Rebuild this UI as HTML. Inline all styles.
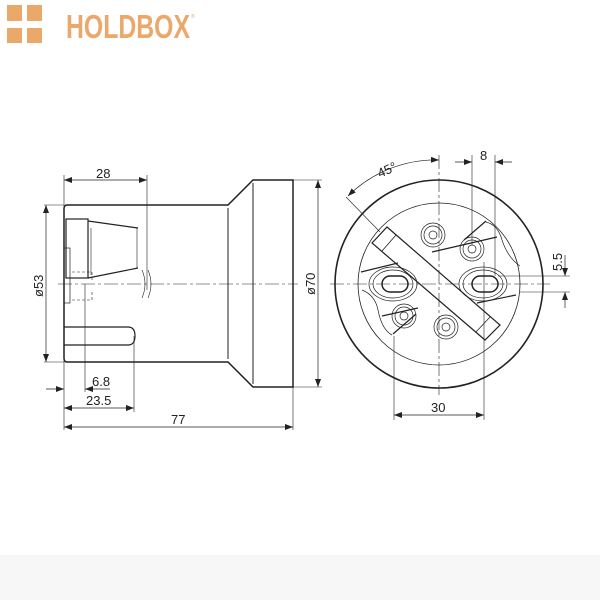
<!DOCTYPE html>
<html><head><style>
html,body{margin:0;padding:0;background:#fff;}
svg{display:block}
text{font-family:"Liberation Sans","DejaVu Sans",sans-serif;fill:#222}
</style></head><body>
<svg width="600" height="600" viewBox="0 0 600 600" xmlns="http://www.w3.org/2000/svg">
<rect x="0" y="555" width="600" height="45" fill="#f7f7f7"/>
<!-- logo -->
<g fill="#eba86b">
<rect x="7" y="5" width="15" height="16"/><rect x="27" y="5" width="15" height="16"/>
<rect x="7" y="28" width="15" height="15"/><rect x="27" y="28" width="15" height="15"/>
</g>
<text x="66" y="38" font-size="33" font-weight="bold" style="fill:#eba86b" textLength="124" lengthAdjust="spacingAndGlyphs">HOLDBOX</text>
<text x="191" y="18" font-size="5" style="fill:#eba86b">®</text>

<defs><marker id="a" markerWidth="8" markerHeight="6" refX="8" refY="3" orient="auto-start-reverse" markerUnits="userSpaceOnUse"><path d="M0,0 L8,3 L0,6z" fill="#222"/></marker></defs>

<g fill="none" stroke="#222" stroke-width="1">
<!-- side view body -->
<path d="M67,205 L228,205 L253,180 L293,180 L293,387 L253,387 L228,362 L67,362 Q64,362 64,358 L64,209 Q64,205 67,205Z" stroke-width="1.5"/>
<line x1="228" y1="208" x2="228" y2="359"/>
<line x1="253" y1="183" x2="253" y2="384"/>
<rect x="66" y="219" width="22" height="59" stroke-width="1.2"/>
<line x1="88" y1="221" x2="138" y2="228" stroke-width="1.2"/>
<line x1="88" y1="278" x2="138" y2="268" stroke-width="1.2"/>
<line x1="137" y1="228" x2="137" y2="268" stroke-width="0.6"/>
<line x1="91" y1="228" x2="91" y2="275" stroke-width="0.6"/>
<rect x="64" y="248" width="6" height="55" stroke-width="0.7"/>
<path d="M64,327 L128,327 Q135,327 135,336 Q135,345 128,345 L64,345" stroke-width="1.2"/>
<path d="M72,272 L92,272 L92,282 M72,300 L92,300 L92,292" stroke-width="0.6" stroke-dasharray="3,2"/>
<path d="M142,270 Q148,284 142,298 M148,270 Q154,284 148,298" stroke-width="0.6"/>
<line x1="58" y1="284" x2="298" y2="284" stroke-width="0.6" stroke-dasharray="14,3,3,3"/>
<!-- dims -->
<line x1="64" y1="175" x2="64" y2="430" stroke-width="0.6"/>
<line x1="147" y1="175" x2="147" y2="290" stroke-width="0.6"/>
<line x1="64" y1="180" x2="147" y2="180" stroke-width="0.7" marker-start="url(#a)" marker-end="url(#a)"/>
<line x1="44" y1="205" x2="64" y2="205" stroke-width="0.6"/>
<line x1="44" y1="362" x2="64" y2="362" stroke-width="0.6"/>
<line x1="46" y1="205" x2="46" y2="362" stroke-width="0.7" marker-start="url(#a)" marker-end="url(#a)"/>
<line x1="293" y1="180" x2="322" y2="180" stroke-width="0.6"/>
<line x1="293" y1="387" x2="322" y2="387" stroke-width="0.6"/>
<line x1="318" y1="180" x2="318" y2="387" stroke-width="0.7" marker-start="url(#a)" marker-end="url(#a)"/>
<line x1="85" y1="284" x2="85" y2="392" stroke-width="0.6"/>
<line x1="134" y1="336" x2="134" y2="412" stroke-width="0.6"/>
<line x1="293" y1="387" x2="293" y2="430" stroke-width="0.6"/>
<line x1="46" y1="389" x2="64" y2="389" stroke-width="0.7" marker-end="url(#a)"/>
<line x1="85" y1="389" x2="110" y2="389" stroke-width="0.7" marker-start="url(#a)"/>
<line x1="64" y1="408" x2="134" y2="408" stroke-width="0.7" marker-start="url(#a)" marker-end="url(#a)"/>
<line x1="64" y1="427" x2="293" y2="427" stroke-width="0.7" marker-start="url(#a)" marker-end="url(#a)"/>
</g>
<text x="96" y="178" font-size="13">28</text>
<text x="92" y="386" font-size="13">6.8</text>
<text x="86" y="405" font-size="13">23.5</text>
<text x="171" y="424" font-size="13">77</text>
<text x="0" y="0" font-size="13" transform="translate(43,297) rotate(-90)">ø53</text>
<text x="0" y="0" font-size="13" transform="translate(315,295) rotate(-90)">ø70</text>

<!-- front view -->
<g fill="none" stroke="#222" stroke-width="1">
<circle cx="439" cy="284" r="104" stroke-width="1.6"/>
<circle cx="439" cy="284" r="81" stroke-width="0.8"/>
<line x1="330" y1="284" x2="550" y2="284" stroke-width="0.6" stroke-dasharray="14,3,3,3"/>
<line x1="439" y1="155" x2="439" y2="395" stroke-width="0.6" stroke-dasharray="14,3,3,3"/>
<polygon points="372,243 387,227 500,325 485,340" stroke-width="1.2"/>
<line x1="382" y1="251" x2="396" y2="235" stroke-width="0.8"/>
<line x1="476" y1="332" x2="490" y2="317" stroke-width="0.8"/>
<line x1="361" y1="272" x2="398" y2="263" stroke-width="1.2"/>
<line x1="432" y1="252" x2="497" y2="237" stroke-width="1.2"/>
<line x1="382" y1="316" x2="418" y2="308" stroke-width="1.2"/>
<line x1="477" y1="303" x2="516" y2="295" stroke-width="1.2"/>
<path d="M464,240 L486,221" stroke-width="1.2"/>
<path d="M393,334 L416,314" stroke-width="1.2"/>
<path d="M486,222 Q498,225 502,240 Q508,258 520,266" stroke-width="0.7"/>
<path d="M362,290 Q375,295 378,310 Q382,330 392,335" stroke-width="0.7"/>
<rect x="382" y="276" width="26" height="16" rx="8" stroke-width="1.5"/>
<ellipse cx="393" cy="284" rx="20" ry="14" stroke-width="0.7"/>
<ellipse cx="393" cy="284" rx="24" ry="17" stroke-width="0.7"/>
<rect x="472" y="276" width="26" height="16" rx="8" stroke-width="1.5"/>
<ellipse cx="483" cy="284" rx="20" ry="14" stroke-width="0.7"/>
<ellipse cx="483" cy="284" rx="24" ry="17" stroke-width="0.7"/>
<g stroke-width="0.7">
<circle cx="433" cy="235" r="12"/><circle cx="433" cy="235" r="9"/><circle cx="433" cy="235" r="4"/>
<circle cx="472" cy="249" r="12"/><circle cx="472" cy="249" r="9"/><circle cx="472" cy="249" r="4"/>
<circle cx="404" cy="316" r="12"/><circle cx="404" cy="316" r="9"/><circle cx="404" cy="316" r="4"/>
<circle cx="446" cy="327" r="12"/><circle cx="446" cy="327" r="9"/><circle cx="446" cy="327" r="4"/>
</g>
<line x1="394" y1="336" x2="394" y2="420" stroke-width="0.6"/>
<line x1="484" y1="262" x2="484" y2="420" stroke-width="0.6"/>
<line x1="394" y1="415" x2="484" y2="415" stroke-width="0.7" marker-start="url(#a)" marker-end="url(#a)"/>
<line x1="472" y1="155" x2="472" y2="245" stroke-width="0.6"/>
<line x1="495" y1="155" x2="495" y2="276" stroke-width="0.6"/>
<line x1="455" y1="162" x2="472" y2="162" stroke-width="0.7" marker-end="url(#a)"/>
<line x1="495" y1="162" x2="512" y2="162" stroke-width="0.7" marker-start="url(#a)"/>
<line x1="498" y1="276" x2="570" y2="276" stroke-width="0.6"/>
<line x1="520" y1="292" x2="570" y2="292" stroke-width="0.6"/>
<line x1="565" y1="255" x2="565" y2="276" stroke-width="0.7" marker-end="url(#a)"/>
<line x1="565" y1="292" x2="565" y2="308" stroke-width="0.7" marker-start="url(#a)"/>
<line x1="346" y1="197" x2="380" y2="232" stroke-width="0.6"/>
<path d="M348,196 A125,125 0 0 1 439,160" stroke-width="0.7" marker-start="url(#a)" marker-end="url(#a)"/>
</g>
<text x="431" y="412" font-size="13">30</text>
<text x="480" y="160" font-size="13">8</text>
<text x="0" y="0" font-size="13" transform="translate(380,178) rotate(-25)">45°</text>
<text x="0" y="0" font-size="13" transform="translate(562,271) rotate(-90)">5.5</text>
</svg>
</body></html>
